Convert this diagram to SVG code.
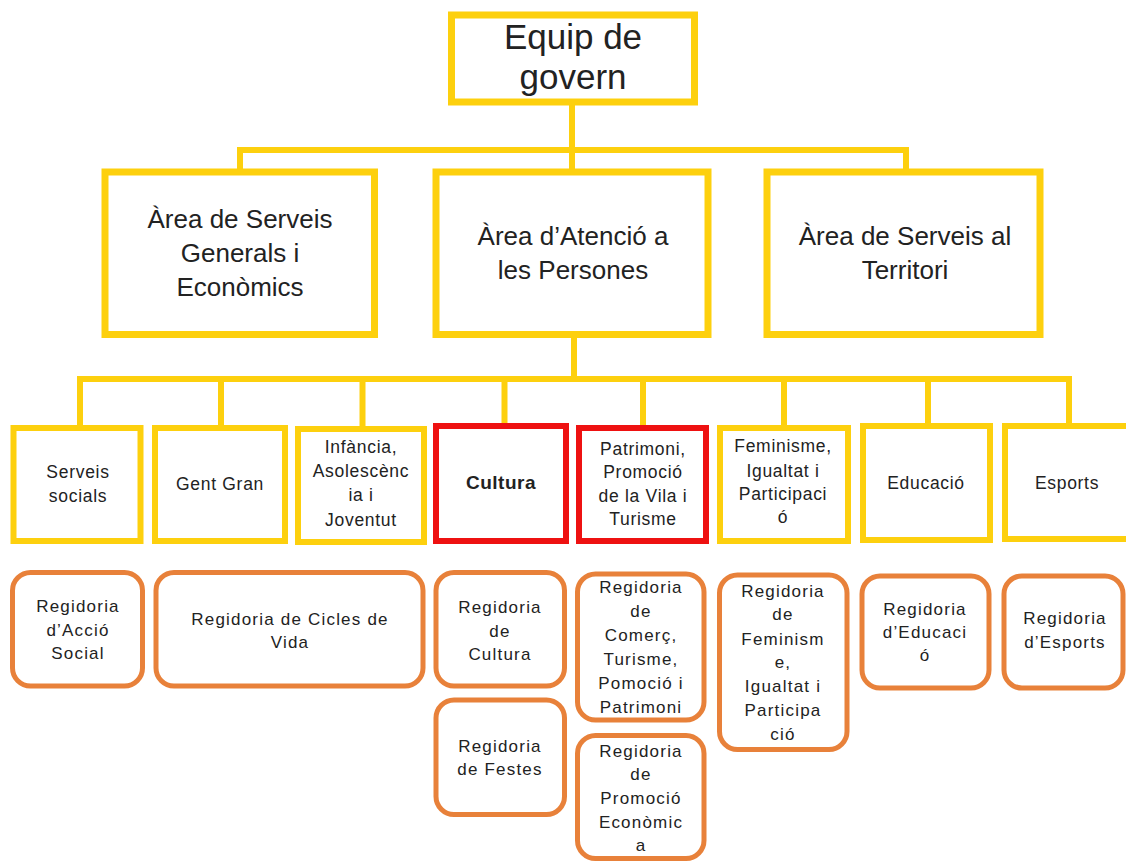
<svg xmlns="http://www.w3.org/2000/svg" width="1126" height="861" viewBox="0 0 1126 861">
<style>
.y{fill:#fff;stroke:#FDD00E;stroke-width:7}
.y3{fill:#fff;stroke:#FDD00E;stroke-width:6}
.r{fill:#fff;stroke:#EE1111;stroke-width:6}
.o{fill:#fff;stroke:#E8813A;stroke-width:5}
.c{fill:none;stroke:#FDD00E;stroke-width:6}
text{font-family:"Liberation Sans",Arial,sans-serif;fill:#222;text-anchor:middle}
.t0{font-size:35px}
.t1{font-size:26px}
.t2{font-size:17.5px;letter-spacing:0.7px}
.tb{font-size:19px;font-weight:bold;letter-spacing:0.5px}
.t3{font-size:17px;letter-spacing:1.2px}
</style>
<rect width="1126" height="861" fill="#fff"/>
<g id="connectors">
<path class="c" d="M572 102V150M240 172V150H906V172M572 150V172"/>
<path class="c" d="M574 334V379M80 428V379H1069V428M221 379V428M362.5 379V429M504.5 379V426M643 379V428M784 379V428M928 379V426"/>
</g>
<g id="n-equip"><rect class="y" x="451.5" y="15" width="243" height="87"/>
<text class="t0" x="573" y="49">Equip de</text><text class="t0" x="573" y="89">govern</text></g>
<g id="n-area1"><rect class="y" x="105" y="172" width="269.5" height="162.5"/>
<text class="t1" x="240" y="228">Àrea de Serveis</text><text class="t1" x="240" y="262">Generals i</text><text class="t1" x="240" y="296">Econòmics</text></g>
<g id="n-area2"><rect class="y" x="436" y="172" width="272" height="162.5"/>
<text class="t1" x="573" y="245">Àrea d’Atenció a</text><text class="t1" x="573" y="279">les Persones</text></g>
<g id="n-area3"><rect class="y" x="767" y="172" width="273" height="162.5"/>
<text class="t1" x="905" y="245">Àrea de Serveis al</text><text class="t1" x="905" y="279">Territori</text></g>
<g id="n-serveis"><rect class="y3" x="13.5" y="428" width="127" height="113"/>
<text class="t2" x="78" y="478">Serveis</text><text class="t2" x="78" y="502">socials</text></g>
<g id="n-gent"><rect class="y3" x="155" y="428" width="130" height="113"/>
<text class="t2" x="220" y="490">Gent Gran</text></g>
<g id="n-infancia"><rect class="y3" x="298" y="429" width="126" height="113"/>
<text class="t2" x="361" y="453">Infància,</text><text class="t2" x="361" y="477">Asolescènc</text><text class="t2" x="361" y="501">ia i</text><text class="t2" x="361" y="526">Joventut</text></g>
<g id="n-cultura"><rect class="r" x="436" y="426" width="130" height="115"/>
<text class="tb" x="501" y="489">Cultura</text></g>
<g id="n-patrimoni"><rect class="r" x="579" y="428" width="127" height="113"/>
<text class="t2" x="643" y="455">Patrimoni,</text><text class="t2" x="643" y="478">Promoció</text><text class="t2" x="643" y="502">de la Vila i</text><text class="t2" x="643" y="525">Turisme</text></g>
<g id="n-feminisme"><rect class="y3" x="720" y="428" width="128" height="113"/>
<text class="t2" x="783" y="452">Feminisme,</text><text class="t2" x="783" y="477">Igualtat i</text><text class="t2" x="783" y="500">Participaci</text><text class="t2" x="783" y="523">ó</text></g>
<g id="n-educacio"><rect class="y3" x="863" y="426" width="127" height="114"/>
<text class="t2" x="926" y="489">Educació</text></g>
<g id="n-esports"><rect class="y3" x="1005" y="426" width="130" height="113"/>
<text class="t2" x="1067" y="489">Esports</text></g>
<g id="n-reg-accio"><rect class="o" x="12.5" y="572.5" width="130" height="113.5" rx="18"/>
<text class="t3" x="78" y="612">Regidoria</text><text class="t3" x="78" y="636">d’Acció</text><text class="t3" x="78" y="659">Social</text></g>
<g id="n-reg-cicles"><rect class="o" x="156" y="572.5" width="267" height="113.5" rx="18"/>
<text class="t3" x="290" y="625">Regidoria de Cicles de</text><text class="t3" x="290" y="648">Vida</text></g>
<g id="n-reg-cultura"><rect class="o" x="436" y="572.5" width="128.5" height="113.5" rx="18"/>
<text class="t3" x="500" y="613">Regidoria</text><text class="t3" x="500" y="637">de</text><text class="t3" x="500" y="660">Cultura</text></g>
<g id="n-reg-festes"><rect class="o" x="436" y="700" width="128.5" height="114.5" rx="18"/>
<text class="t3" x="500" y="752">Regidoria</text><text class="t3" x="500" y="775">de Festes</text></g>
<g id="n-reg-comerc"><rect class="o" x="577.5" y="574" width="126.5" height="146" rx="18"/>
<text class="t3" x="641" y="593">Regidoria</text><text class="t3" x="641" y="617">de</text><text class="t3" x="641" y="641">Comerç,</text><text class="t3" x="641" y="665">Turisme,</text><text class="t3" x="641" y="689">Pomoció i</text><text class="t3" x="641" y="713">Patrimoni</text></g>
<g id="n-reg-promocio"><rect class="o" x="577.5" y="735.5" width="126.5" height="123" rx="18"/>
<text class="t3" x="641" y="757">Regidoria</text><text class="t3" x="641" y="780">de</text><text class="t3" x="641" y="804">Promoció</text><text class="t3" x="641" y="828">Econòmic</text><text class="t3" x="641" y="851">a</text></g>
<g id="n-reg-feminisme"><rect class="o" x="719.5" y="575" width="127.5" height="174.5" rx="18"/>
<text class="t3" x="783" y="597">Regidoria</text><text class="t3" x="783" y="620">de</text><text class="t3" x="783" y="645">Feminism</text><text class="t3" x="783" y="668">e,</text><text class="t3" x="783" y="692">Igualtat i</text><text class="t3" x="783" y="716">Participa</text><text class="t3" x="783" y="740">ció</text></g>
<g id="n-reg-educacio"><rect class="o" x="862" y="576" width="127" height="112" rx="18"/>
<text class="t3" x="925" y="615">Regidoria</text><text class="t3" x="925" y="638">d’Educaci</text><text class="t3" x="925" y="661">ó</text></g>
<g id="n-reg-esports"><rect class="o" x="1004" y="576" width="119" height="112" rx="18"/>
<text class="t3" x="1065" y="624">Regidoria</text><text class="t3" x="1065" y="648">d’Esports</text></g>
</svg>
